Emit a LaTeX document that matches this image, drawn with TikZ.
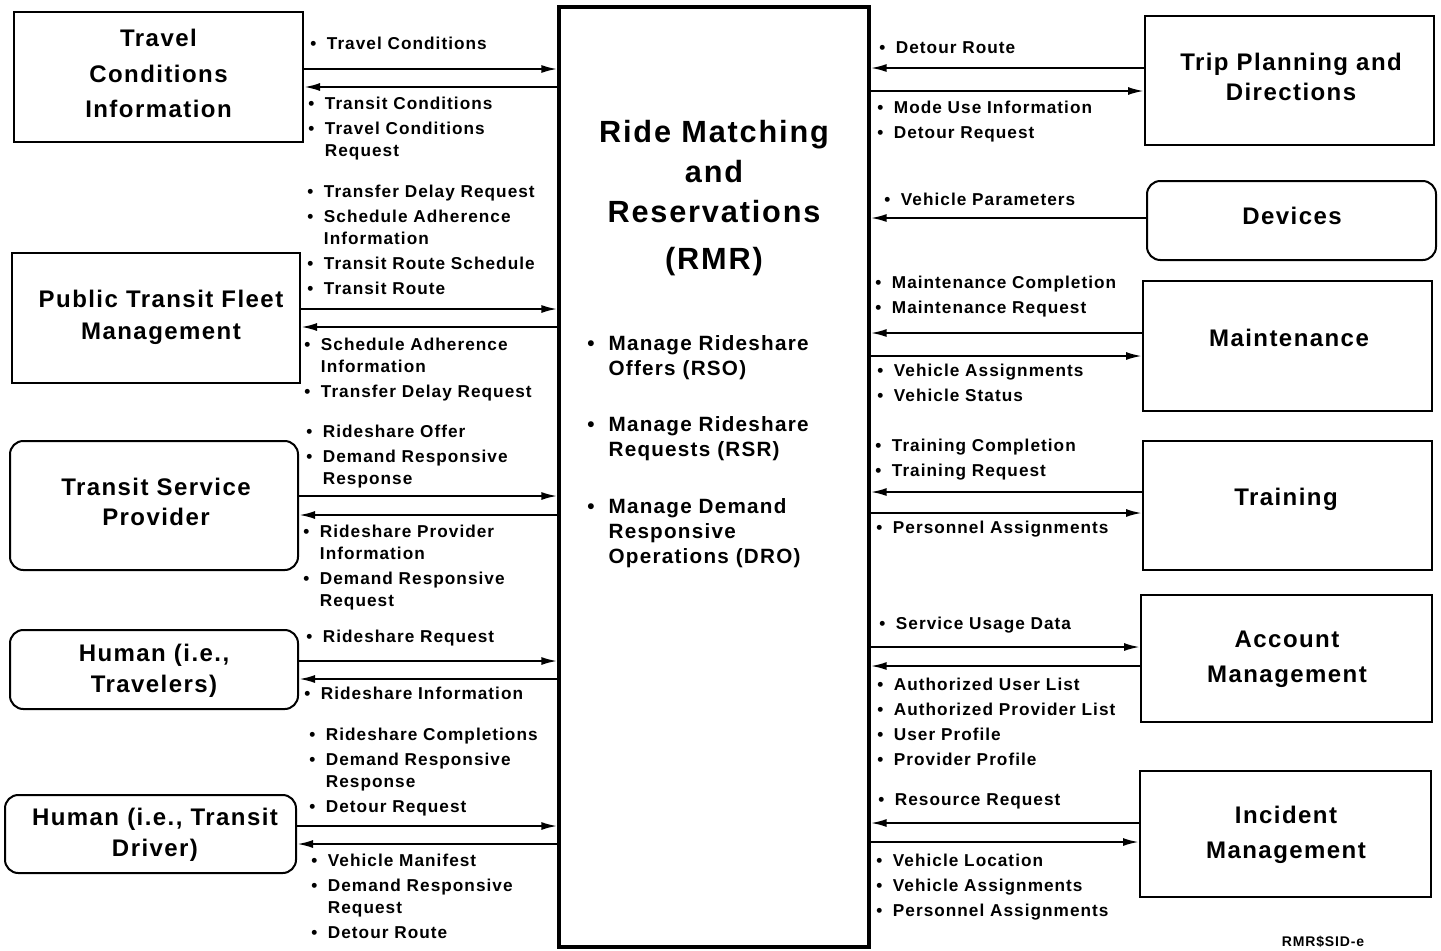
\documentclass[tikz,border=0pt]{standalone}
\usepackage{fontspec}
\setmainfont{Liberation Sans}[LetterSpace=6]
\usetikzlibrary{arrows.meta}
\newcommand{\itm}[1]{\makebox[12.5pt][l]{\textbullet}#1}
\newcommand{\cnt}[1]{\hspace*{12.5pt}#1}
\newcommand{\itmb}[1]{\makebox[16pt][l]{\textbullet}#1}
\newcommand{\cntb}[1]{\hspace*{16pt}#1}
\newcommand{\mybx}[6]{%
  \pgfmathsetmacro\mycx{(#3+#5)/2}\pgfmathsetmacro\mycy{(#4+#6)/2}%
  \pgfmathsetmacro\myww{(#5-#3)*0.75}\pgfmathsetmacro\myhh{(#6-#4)*0.75}%
  \node[#1, minimum width=\myww pt, minimum height=\myhh pt] (#2) at (\mycx,\mycy) {};}
\tikzset{
  box/.style={draw, line width=1.5pt, inner sep=0pt},
  rbox/.style={box, rounded corners=10pt},
  big/.style={draw, line width=2.4pt, inner sep=0pt},
  ttl/.style={inner sep=0pt, align=center, font=\fontsize{18}{23}\selectfont\bfseries},
  lbl/.style={anchor=north west, inner sep=0pt, align=left,
    font=\fontsize{12.9}{16.5}\selectfont\bfseries},
  arr/.style={line width=1.6pt, -{Latex[length=12pt,width=6pt]}},
}
\begin{document}
\begin{tikzpicture}[x=0.75pt,y=-0.75pt]
\useasboundingbox (0,0) rectangle (1441,950);
% central box
\mybx{big}{rmr}{559}{7}{869}{947}
\node[anchor=north, inner sep=0pt, align=center,
  font=\fontsize{23}{30}\selectfont\bfseries] (rmrt) at (714,120)
  {Ride Matching\\and\\Reservations\\[5pt](RMR)};
\node[lbl, font=\fontsize{15.5}{18.75}\selectfont\bfseries] (rmrb) at (587,335)
  {\itmb{Manage Rideshare}\\\cntb{Offers (RSO)}\\[23.7pt]
   \itmb{Manage Rideshare}\\\cntb{Requests (RSR)}\\[23.7pt]
   \itmb{Manage Demand}\\\cntb{Responsive}\\\cntb{Operations (DRO)}};
% left boxes
\mybx{box}{tci}{14}{12}{303}{142}
\mybx{box}{ptf}{12}{253}{300}{383}
\mybx{rbox}{tsp}{10}{441}{298}{570}
\mybx{rbox}{htr}{10}{630}{298}{709}
\mybx{rbox}{hdr}{5}{795}{296}{873}
\node[ttl, font=\fontsize{18}{26.5}\selectfont\bfseries] (tciT) at (tci.center|-0,73.5) {Travel\\Conditions\\Information};
\node[ttl, font=\fontsize{18}{24}\selectfont\bfseries] (ptfT) at (161,317) {Public Transit Fleet\\Management};
\node[ttl] (tspT) at (156,502) {Transit Service\\Provider};
\node[ttl] (htrT) at (154,671) {Human (i.e.,\\Travelers)};
\node[ttl] (hdrT) at (155,835) {Human (i.e., Transit\\Driver)};
% right boxes
\mybx{box}{tpd}{1145}{16}{1434}{145}
\mybx{rbox}{dev}{1147}{181}{1436}{260}
\mybx{box}{mnt}{1143}{281}{1432}{411}
\mybx{box}{trn}{1143}{441}{1432}{570}
\mybx{box}{acc}{1141}{595}{1432}{722}
\mybx{box}{inc}{1140}{771}{1431}{897}
\node[ttl] (tpdT) at (1291,77) {Trip Planning and\\Directions};
\node[ttl] (devT) at (1292,216) {Devices};
\node[ttl] (mntT) at (1289,338) {Maintenance};
\node[ttl] (trnT) at (1286,499) {Training};
\node[ttl, font=\fontsize{18}{26}\selectfont\bfseries] (accT) at (1287,659) {Account\\Management};
\node[ttl, font=\fontsize{18}{26}\selectfont\bfseries] (incT) at (1286,835) {Incident\\Management};
% left arrows
\draw[arr] (tci.east|-0,69) -- (rmr.west|-0,69);
\draw[arr] (rmr.west|-0,87) -- (tci.east|-0,87);
\draw[arr] (ptf.east|-0,309) -- (rmr.west|-0,309);
\draw[arr] (rmr.west|-0,327) -- (ptf.east|-0,327);
\draw[arr] (tsp.east|-0,496) -- (rmr.west|-0,496);
\draw[arr] (rmr.west|-0,515) -- (tsp.east|-0,515);
\draw[arr] (htr.east|-0,661) -- (rmr.west|-0,661);
\draw[arr] (rmr.west|-0,679) -- (htr.east|-0,679);
\draw[arr] (hdr.east|-0,826) -- (rmr.west|-0,826);
\draw[arr] (rmr.west|-0,844) -- (hdr.east|-0,844);
% right arrows
\draw[arr] (tpd.west|-0,68) -- (rmr.east|-0,68);
\draw[arr] (rmr.east|-0,91) -- (tpd.west|-0,91);
\draw[arr] (dev.west|-0,218) -- (rmr.east|-0,218);
\draw[arr] (mnt.west|-0,333) -- (rmr.east|-0,333);
\draw[arr] (rmr.east|-0,356) -- (mnt.west|-0,356);
\draw[arr] (trn.west|-0,492) -- (rmr.east|-0,492);
\draw[arr] (rmr.east|-0,513) -- (trn.west|-0,513);
\draw[arr] (rmr.east|-0,647) -- (acc.west|-0,647);
\draw[arr] (acc.west|-0,666) -- (rmr.east|-0,666);
\draw[arr] (inc.west|-0,823) -- (rmr.east|-0,823);
\draw[arr] (rmr.east|-0,842) -- (inc.west|-0,842);
% left labels
\node[lbl] (l1) at (310,37) {\itm{Travel Conditions}};
\node[lbl] (l2) at (308,97) {\itm{Transit Conditions}\\[2.25pt]\itm{Travel Conditions}\\\cnt{Request}};
\node[lbl] (l3) at (307,185) {\itm{Transfer Delay Request}\\[2.25pt]\itm{Schedule Adherence}\\\cnt{Information}\\[2.25pt]\itm{Transit Route Schedule}\\[2.25pt]\itm{Transit Route}};
\node[lbl] (l4) at (304,338) {\itm{Schedule Adherence}\\\cnt{Information}\\[2.25pt]\itm{Transfer Delay Request}};
\node[lbl] (l5) at (306,425) {\itm{Rideshare Offer}\\[2.25pt]\itm{Demand Responsive}\\\cnt{Response}};
\node[lbl] (l6) at (303,525) {\itm{Rideshare Provider}\\\cnt{Information}\\[2.25pt]\itm{Demand Responsive}\\\cnt{Request}};
\node[lbl] (l7) at (306,630) {\itm{Rideshare Request}};
\node[lbl] (l8) at (304,687) {\itm{Rideshare Information}};
\node[lbl] (l9) at (309,728) {\itm{Rideshare Completions}\\[2.25pt]\itm{Demand Responsive}\\\cnt{Response}\\[2.25pt]\itm{Detour Request}};
\node[lbl] (l10) at (311,854) {\itm{Vehicle Manifest}\\[2.25pt]\itm{Demand Responsive}\\\cnt{Request}\\[2.25pt]\itm{Detour Route}};
% right labels
\node[lbl] (r1) at (879,41) {\itm{Detour Route}};
\node[lbl] (r2) at (877,101) {\itm{Mode Use Information}\\[2.25pt]\itm{Detour Request}};
\node[lbl] (r3) at (884,193) {\itm{Vehicle Parameters}};
\node[lbl] (r4) at (875,276) {\itm{Maintenance Completion}\\[2.25pt]\itm{Maintenance Request}};
\node[lbl] (r5) at (877,364) {\itm{Vehicle Assignments}\\[2.25pt]\itm{Vehicle Status}};
\node[lbl] (r6) at (875,439) {\itm{Training Completion}\\[2.25pt]\itm{Training Request}};
\node[lbl] (r7) at (876,521) {\itm{Personnel Assignments}};
\node[lbl] (r8) at (879,617) {\itm{Service Usage Data}};
\node[lbl] (r9) at (877,678) {\itm{Authorized User List}\\[2.25pt]\itm{Authorized Provider List}\\[2.25pt]\itm{User Profile}\\[2.25pt]\itm{Provider Profile}};
\node[lbl] (r10) at (878,793) {\itm{Resource Request}};
\node[lbl] (r11) at (876,854) {\itm{Vehicle Location}\\[2.25pt]\itm{Vehicle Assignments}\\[2.25pt]\itm{Personnel Assignments}};
\node[inner sep=0pt, font=\fontsize{10.5}{12}\selectfont\bfseries] (code) at (1323,942) {RMR\$SID-e};
\end{tikzpicture}
\end{document}
